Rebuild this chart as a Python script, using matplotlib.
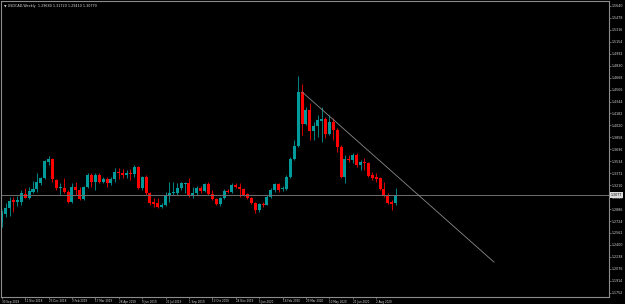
import numpy as np
import pandas as pd
import matplotlib
matplotlib.use('Agg')
import matplotlib.pyplot as plt
import matplotlib.transforms as mtransforms

symbol = 'USDCAD,Weekly'
first_week = '2018-09-30'

opens = [
    1.2711, 1.2819, 1.2901, 1.3009, 1.2982, 1.2982, 1.3090, 1.3036, 1.3118, 1.3158,
    1.3239, 1.3307, 1.3524, 1.3565, 1.3280, 1.3172, 1.3172, 1.3118, 1.2982, 1.3185,
    1.3145, 1.3023, 1.3185, 1.3348, 1.3253, 1.3348, 1.3253, 1.3294, 1.3239, 1.3294,
    1.3389, 1.3375, 1.3348, 1.3375, 1.3362, 1.3457, 1.3172, 1.3321, 1.3104, 1.2982,
    1.2968, 1.2914, 1.2941, 1.3063, 1.3104, 1.3104, 1.3172, 1.3226, 1.3239, 1.3063,
    1.3104, 1.3172, 1.3131, 1.3226, 1.3090, 1.3023, 1.2955, 1.3036, 1.3131, 1.3118,
    1.3212, 1.3185, 1.3158, 1.3090, 1.3036, 1.2968, 1.2873, 1.2955, 1.2941, 1.3050,
    1.3145, 1.3226, 1.3158, 1.3158, 1.3321, 1.3565, 1.3741, 1.4474, 1.4040, 1.4230,
    1.3945, 1.4013, 1.4080, 1.4108, 1.3904, 1.4067, 1.3958, 1.3728, 1.3321, 1.3565,
    1.3551, 1.3619, 1.3484, 1.3524, 1.3511, 1.3348, 1.3321, 1.3307, 1.3158, 1.3063,
    1.2982, 1.2968]
closes = [
    1.2833, 1.2901, 1.2996, 1.2982, 1.3009, 1.3104, 1.3036, 1.3131, 1.3158, 1.3253,
    1.3307, 1.3538, 1.3565, 1.3294, 1.3172, 1.3185, 1.3118, 1.2982, 1.3185, 1.3145,
    1.3023, 1.3185, 1.3348, 1.3253, 1.3348, 1.3253, 1.3294, 1.3239, 1.3294, 1.3389,
    1.3375, 1.3348, 1.3375, 1.3362, 1.3457, 1.3172, 1.3321, 1.3104, 1.2968, 1.2955,
    1.2914, 1.2941, 1.3063, 1.3104, 1.3118, 1.3172, 1.3239, 1.3239, 1.3063, 1.3104,
    1.3172, 1.3131, 1.3226, 1.3090, 1.3023, 1.2955, 1.3036, 1.3131, 1.3118, 1.3212,
    1.3185, 1.3158, 1.3077, 1.3036, 1.2968, 1.2873, 1.2955, 1.2941, 1.3050, 1.3145,
    1.3226, 1.3145, 1.3172, 1.3321, 1.3565, 1.3741, 1.4474, 1.4040, 1.4230, 1.3945,
    1.4013, 1.4094, 1.4108, 1.3904, 1.4067, 1.3958, 1.3728, 1.3321, 1.3565, 1.3551,
    1.3619, 1.3484, 1.3524, 1.3511, 1.3334, 1.3307, 1.3294, 1.3158, 1.3063, 1.2968,
    1.2955, 1.3077]
highs = [
    1.2873, 1.2968, 1.3050, 1.3050, 1.3063, 1.3145, 1.3172, 1.3185, 1.3267, 1.3375,
    1.3321, 1.3551, 1.3606, 1.3579, 1.3294, 1.3239, 1.3307, 1.3145, 1.3239, 1.3253,
    1.3185, 1.3199, 1.3375, 1.3375, 1.3375, 1.3375, 1.3321, 1.3321, 1.3321, 1.3443,
    1.3443, 1.3429, 1.3416, 1.3429, 1.3484, 1.3470, 1.3334, 1.3348, 1.3118, 1.3036,
    1.3036, 1.2968, 1.3118, 1.3253, 1.3253, 1.3239, 1.3253, 1.3253, 1.3307, 1.3185,
    1.3199, 1.3199, 1.3239, 1.3253, 1.3145, 1.3036, 1.3050, 1.3158, 1.3158, 1.3239,
    1.3239, 1.3239, 1.3172, 1.3104, 1.3050, 1.2982, 1.2968, 1.2982, 1.3077, 1.3172,
    1.3239, 1.3239, 1.3199, 1.3348, 1.3592, 1.3823, 1.4690, 1.4582, 1.4271, 1.4325,
    1.4067, 1.4162, 1.4271, 1.4135, 1.4162, 1.4121, 1.3985, 1.3755, 1.3619, 1.3619,
    1.3646, 1.3646, 1.3551, 1.3579, 1.3524, 1.3389, 1.3375, 1.3321, 1.3253, 1.3104,
    1.3009, 1.3172]
lows = [
    1.2643, 1.2779, 1.2792, 1.2846, 1.2928, 1.2941, 1.3036, 1.3023, 1.3104, 1.3118,
    1.3212, 1.3294, 1.3484, 1.3253, 1.3145, 1.3077, 1.3104, 1.2968, 1.2968, 1.3077,
    1.3009, 1.3009, 1.3172, 1.3185, 1.3145, 1.3239, 1.3239, 1.3185, 1.3212, 1.3253,
    1.3294, 1.3307, 1.3307, 1.3280, 1.3321, 1.3158, 1.3145, 1.3077, 1.2941, 1.2914,
    1.2901, 1.2901, 1.2928, 1.2982, 1.3077, 1.3077, 1.3145, 1.3104, 1.3050, 1.3036,
    1.3077, 1.3104, 1.3118, 1.3077, 1.3009, 1.2941, 1.2928, 1.3023, 1.3104, 1.3104,
    1.3172, 1.3050, 1.3063, 1.3023, 1.2955, 1.2833, 1.2846, 1.2914, 1.2935, 1.3036,
    1.3118, 1.3118, 1.3131, 1.3145, 1.3307, 1.3551, 1.3728, 1.3890, 1.4026, 1.3823,
    1.3823, 1.3863, 1.3796, 1.3850, 1.3890, 1.3823, 1.3660, 1.3307, 1.3239, 1.3524,
    1.3511, 1.3457, 1.3416, 1.3416, 1.3321, 1.3280, 1.3253, 1.3145, 1.3050, 1.2960,
    1.2873, 1.2941]

# trend line drawn from the March 2020 top (bar index, price)
trend_start = (77, 1.4474)
trend_end = (126.2, 1.2168)

price_ticks = [1.5640 - 0.0162 * k for k in range(25)]
date_every = 6

df = pd.DataFrame({'open': opens, 'high': highs, 'low': lows, 'close': closes})
df['date'] = pd.date_range(first_week, periods=len(df), freq='7D')
x = np.arange(len(df))
up = df['close'] >= df['open']
colors = np.where(up, '#009a9a', '#ff0000')

fig = plt.figure(figsize=(6.25, 3.04), dpi=100, facecolor='black')
ax = fig.add_axes([1 / 625, 7 / 304, 608 / 625, 296 / 304], facecolor='black')

# wicks then bodies
ax.vlines(x, df['low'], df['high'], colors=colors, linewidth=0.6)
body = (df['close'] - df['open']).abs().clip(lower=0.0006)
ax.bar(x, body, bottom=df[['open', 'close']].min(axis=1), width=0.78,
       color=colors, linewidth=0)

last = df['close'].iloc[-1]
ax.axhline(last, color='#6e6e6e', linewidth=0.7)
ax.plot([trend_start[0], trend_end[0]], [trend_start[1], trend_end[1]],
        color='#8a8a8a', linewidth=0.6)

ax.set_xlim(-0.2, 155.7)
ax.set_ylim(1.1694, 1.5707)

for s in ax.spines.values():
    s.set_color('#8c8c8c')
    s.set_linewidth(0.8)

ax.yaxis.tick_right()
ax.set_yticks(price_ticks)
ax.set_yticklabels(['%.4f' % p for p in price_ticks])
ax.tick_params(axis='y', colors='#8c8c8c', labelcolor='#d8d8d8', labelsize=2.3,
               length=1.2, width=0.5, pad=0.6)

ticks = x[::date_every]
ax.set_xticks(ticks)
ax.set_xticklabels([d.strftime('%-d %b %Y') for d in df['date'].iloc[::date_every]],
                   ha='left')
ax.tick_params(axis='x', colors='#8c8c8c', labelcolor='#d8d8d8', labelsize=2.0,
               length=1.2, width=0.5, pad=0.6)

# price box for the last close
trans = mtransforms.blended_transform_factory(ax.transAxes, ax.transData)
ax.text(1.003, last, '%.4f' % last, transform=trans, fontsize=2.3, color='black',
        va='center', ha='left',
        bbox=dict(facecolor='#dcdcdc', edgecolor='none', pad=0.4))

fig.text(4 / 625, 1 - 6 / 304, '\u25bc %s  %.5f %.5f %.5f %.5f' % (
    symbol, opens[-1], highs[-1], lows[-1], closes[-1]),
    fontsize=2.4, color='#d8d8d8', va='center', ha='left')

fig.savefig('out.png', dpi=100, facecolor='black')
